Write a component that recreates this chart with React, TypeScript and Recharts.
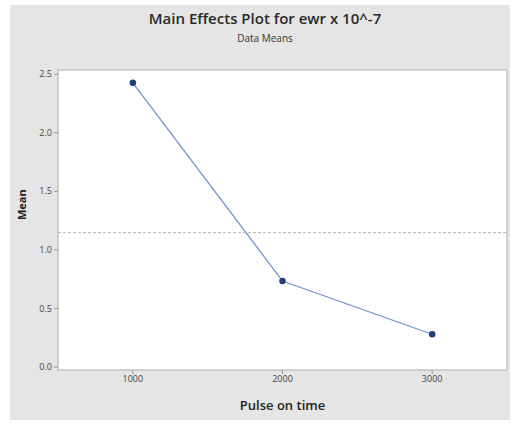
import React from "react";
import {
  LineChart,
  Line,
  XAxis,
  YAxis,
  ReferenceLine,
  ReferenceArea,
} from "recharts";

const pulseOnTime = [1000, 2000, 3000];
const meanValues = [2.426, 0.734, 0.28];
const yTicks = [0, 0.5, 1, 1.5, 2, 2.5];

const data = pulseOnTime.map((p, i) => ({ pulse: p, mean: meanValues[i] }));
const grandMean = meanValues.reduce((a, b) => a + b, 0) / meanValues.length;

const font = "'Open Sans', 'DejaVu Sans', sans-serif";

export default function App() {
  return (
    <div style={{ position: "absolute", left: 0, top: 0, width: 525, height: 425, background: "#fff", fontFamily: font }}>
      <div style={{ position: "absolute", left: 10, top: 5, width: 500, height: 415, background: "#e5e5e5" }} />
      <div style={{ position: "absolute", left: 0, top: 8, width: 530, textAlign: "center", fontSize: 15, fontWeight: 600, color: "#2a2a2a" }}>
        Main Effects Plot for ewr x 10^-7
      </div>
      <div style={{ position: "absolute", left: 0, top: 31, width: 530, textAlign: "center", fontSize: 10, color: "#333" }}>
        Data Means
      </div>
      <div style={{ position: "absolute", left: 0, top: 0 }}>
        <LineChart width={525} height={425} data={data} margin={{ top: 70, right: 18, left: 0, bottom: 0 }}>
          <XAxis
            dataKey="pulse"
            type="number"
            domain={[500, 3500]}
            ticks={pulseOnTime}
            axisLine={false}
            tickLine={{ stroke: "#999" }}
            tickSize={4}
            height={55}
            tick={{ fontSize: 9, fill: "#444", fontFamily: font }}
            label={{ value: "Pulse on time", position: "insideBottom", offset: 15, fontSize: 13, fontWeight: 600, fill: "#222", fontFamily: font }}
          />
          <YAxis
            type="number"
            domain={[-0.025, 2.535]}
            ticks={yTicks}
            tickFormatter={(v: number) => v.toFixed(1)}
            axisLine={false}
            tickLine={{ stroke: "#999" }}
            tickSize={4}
            width={58}
            tick={{ fontSize: 9, fill: "#444", fontFamily: font }}
            label={{ value: "Mean", angle: -90, position: "insideLeft", offset: 22, fontSize: 11, fontWeight: "bold", fill: "#222", fontFamily: font }}
          />
          <ReferenceArea x1={500} x2={3500} y1={-0.025} y2={2.535} fill="#ffffff" fillOpacity={1} stroke="#c4c4c4" strokeWidth={1.5} />
          <ReferenceLine y={grandMean} stroke="#b0b0b0" strokeDasharray="3 2" />
          <Line
            dataKey="mean"
            stroke="#7393cc"
            strokeWidth={1.3}
            dot={{ r: 2.6, fill: "#1f3f7a", stroke: "#1f3f7a" }}
            isAnimationActive={false}
          />
        </LineChart>
      </div>
    </div>
  );
}
